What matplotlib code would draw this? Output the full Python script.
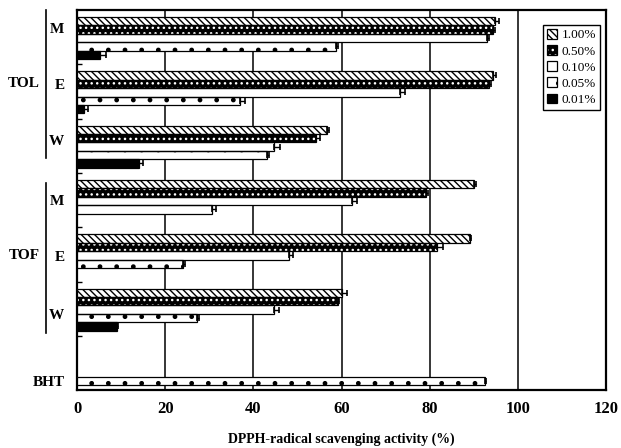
import numpy as np
import matplotlib
matplotlib.use('Agg')
import matplotlib.pyplot as plt
import matplotlib.transforms as mtransforms
from matplotlib.legend_handler import HandlerTuple

plt.rcParams['font.family'] = ['Liberation Serif', 'DejaVu Serif']
plt.rcParams['hatch.linewidth'] = 1.0

# sample rows, top to bottom
row_labels = ['M', 'E', 'W', 'M', 'E', 'W']
group_names = ['TOL', 'TOF']
concentrations = ['1.00%', '0.50%', '0.10%', '0.05%', '0.01%']

# DPPH scavenging activity (%) per concentration, rows as above
act_100 = [94.8, 94.3, 56.6, 90.0, 89.1, 60.0]
act_050 = [94.4, 93.4, 54.1, 79.1, 81.7, 59.1]
act_010 = [92.9, 73.2, 44.7, 62.3, 48.1, 44.7]
act_005 = [58.7, 37.0, 43.0, 30.7, 24.0, 27.3]
act_001 = [5.2, 1.6, 14.1, 0.0, 0.0, 9.1]

err_100 = [1.0, 0.8, 0.5, 0.5, 0.3, 1.3]
err_050 = [0.5, 0.5, 1.1, 0.4, 1.4, 0.4]
err_010 = [0.5, 1.3, 1.4, 1.3, 1.0, 1.2]
err_005 = [0.4, 1.1, 0.5, 0.8, 0.5, 0.4]
err_001 = [1.3, 1.0, 0.8, 0.0, 0.0, 0.3]

bht_label = 'BHT'
bht_value = 92.5
bht_err = 0.3

values = [act_100, act_050, act_010, act_005, act_001]
errors = [err_100, err_050, err_010, err_005, err_001]

# bar styles: (facecolor, hatch colour, hatch)
styles = [
    ('white', 'black', '\\\\\\\\\\'),
    ('black', 'white', '...'),
    ('white', 'black', None),
    ('white', 'black', '.'),
    ('black', 'black', None),
]

fig = plt.figure(figsize=(6.21, 4.48), dpi=100)
ax = fig.add_axes([0.124, 0.129, 0.852, 0.849])

bar_h = 0.155
first = 0.13
rows = np.arange(len(row_labels))


def draw_bar(y, w, err, face, hcol, hatch):
    y = np.atleast_1d(y)
    w = np.atleast_1d(w)
    err = np.atleast_1d(err)
    # filled pattern first, black outline on top
    ax.barh(y, w, height=bar_h, align='edge', color=face, edgecolor=hcol,
            hatch=hatch, linewidth=0, zorder=3)
    ax.barh(y, w, height=bar_h, align='edge', fill=False,
            edgecolor='black', linewidth=0.9, zorder=4)
    ax.errorbar(w, y + bar_h / 2, xerr=[np.zeros_like(err), err],
                fmt='none', ecolor='black', elinewidth=1, capsize=2.5,
                capthick=1.2, zorder=5)


handles = []
for k, (vals, errs) in enumerate(zip(values, errors)):
    face, hcol, hatch = styles[k]
    y = rows + first + k * bar_h
    vals = np.array(vals)
    errs = np.array(errs)
    keep = vals > 0
    draw_bar(y[keep], vals[keep], errs[keep], face, hcol, hatch)
    fill = plt.Rectangle((0, 0), 1, 1, facecolor=face, edgecolor=hcol,
                         hatch=hatch, linewidth=0)
    outline = plt.Rectangle((0, 0), 1, 1, fill=False, edgecolor='black',
                            linewidth=0.9)
    handles.append((fill, outline))

# BHT reference bar, dotted, lowest slot of the last row
bht_row = len(row_labels)
draw_bar(bht_row + first + 4 * bar_h, bht_value, bht_err, 'white', 'black', '.')

ax.set_xlim(0, 120)
ax.set_ylim(bht_row + 1, 0)

# vertical grid lines
for gx in [20, 40, 60, 80, 100]:
    ax.axvline(gx, color='black', linewidth=1.1, zorder=1)

for sp in ax.spines.values():
    sp.set_linewidth(1.6)

ax.set_xticks([0, 20, 40, 60, 80, 100, 120])
ax.tick_params(axis='x', length=0, pad=8, labelsize=12)
for t in ax.get_xticklabels():
    t.set_fontweight('bold')

label_off = [0.33, 0.37, 0.4, 0.5, 0.53, 0.6]
ax.set_yticks(list(rows + np.array(label_off)) + [bht_row + 0.83])
ax.set_yticklabels(row_labels + [bht_label], fontweight='bold', fontsize=11)
ax.tick_params(axis='y', which='major', length=0, pad=9)
ax.set_yticks(np.arange(1, bht_row + 1), minor=True)
ax.tick_params(axis='y', which='minor', direction='in', length=3.5, width=1)

ax.set_xlabel('DPPH-radical scavenging activity (%)', fontweight='bold',
              fontsize=10, labelpad=11)

# group brackets and names
trans = mtransforms.blended_transform_factory(ax.transAxes, ax.transData)
brackets = [(0.0, 2.73, 1.36), (3.19, 5.95, 4.53)]
for name, (y0, y1, ym) in zip(group_names, brackets):
    ax.plot([-0.0586, -0.0586], [y0, y1], transform=trans, color='black',
            linewidth=1.2, clip_on=False)
    ax.text(-0.07, ym, name, transform=trans, ha='right', va='center',
            fontweight='bold', fontsize=11)

leg = ax.legend(handles, concentrations, loc='upper right',
                bbox_to_anchor=(0.988, 0.96), fancybox=False, framealpha=1,
                edgecolor='black', fontsize=9.5, handlelength=0.75,
                handleheight=0.75, handletextpad=0.3, labelspacing=0.28,
                borderpad=0.3, borderaxespad=0,
                handler_map={tuple: HandlerTuple(ndivide=1, pad=0)})
leg.get_frame().set_linewidth(1.0)

plt.savefig('out.png', dpi=100)
plt.close()
